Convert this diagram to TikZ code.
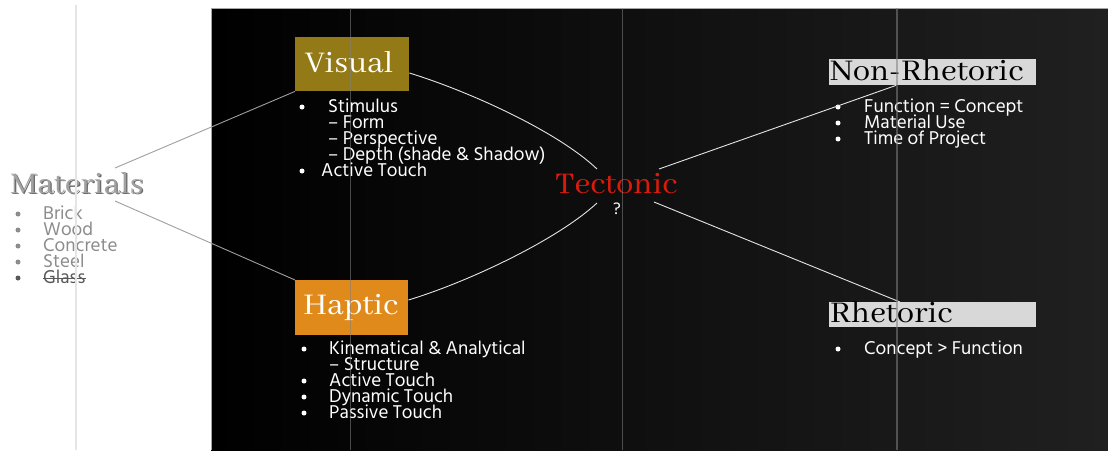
\documentclass[tikz,border=0pt]{standalone}
\usepackage{fontspec}
\newfontfamily\hind{Hind Siliguri}
\newfontfamily\abh[FakeStretch=1.05]{Abhaya Libre}
\usetikzlibrary{calc}
\definecolor{visualc}{HTML}{937A16}
\definecolor{hapticc}{HTML}{E08A1C}
\definecolor{rhetc}{HTML}{D8D8D8}
\definecolor{tecc}{HTML}{DC1A0C}
\definecolor{matc}{HTML}{A2A2A2}
\definecolor{matsh}{HTML}{6A6A6A}
\definecolor{linec}{HTML}{E4E4E4}
\definecolor{panelr}{HTML}{202020}
\tikzset{
  title/.style={font=\abh\fontsize{33}{33}\selectfont, inner sep=0pt, anchor=base west},
  item/.style={font=\hind\fontsize{19}{16}\selectfont, text=white, inner sep=0pt, anchor=base west, text height=11pt, text depth=3pt},
  dot/.style={circle, fill=white, inner sep=0pt, minimum size=5pt},
  conn/.style={draw=linec, line width=0.9pt},
  boxs/.style={inner sep=0pt, anchor=north west, draw=none},
  grid/.style={draw=gray, opacity=0.55, line width=1pt}
}
\begin{document}
\begin{tikzpicture}[x=1pt,y=-1pt]
\useasboundingbox (0,0) rectangle (1108,450);
\fill[white] (0,0) rectangle (1108,450);
\shade[left color=black, right color=panelr] (211,8) rectangle (1108,450);
\draw[gray!70, line width=0.6pt] (211,450) -- (211,8) -- (1108,8);

% boxes
\node[boxs, fill=visualc, minimum width=114pt, minimum height=54pt] (vbox) at (295,37) {};
\node[boxs, fill=hapticc, minimum width=113pt, minimum height=55pt] (hbox) at (295,280) {};
\node[boxs, fill=rhetc, minimum width=207pt, minimum height=26pt] (nbox) at (829,59) {};
\node[boxs, fill=rhetc, minimum width=207pt, minimum height=25pt] (rbox) at (829,302) {};

% titles
\node[title, text=white] (vt) at (305,72) {Visual};
\node[title, text=white] (ht) at (303,314) {Haptic};
\node[title, text=black] (nt) at (830,80) {Non-Rhetoric};
\node[title, text=black] (rt) at (830,322) {Rhetoric};
\node[title, text=tecc] (tec) at (555,193) {Tectonic};
\node[item, font=\hind\fontsize{17}{17}\selectfont] (q) at (613,214) {?};
\node[title, text=matsh] (matshadow) at (11.2,194.2) {Materials};
\node[title, text=matc] (mat) at (10,193) {Materials};

% materials list
\foreach \t [count=\i] in {Brick,Wood,Concrete,Steel}{
  \node[dot, fill=black!45] (mb\i) at (18,{219+16*(\i-1)-5}) {};
  \node[item, text=black!45] (m\i) at (43,{219+16*(\i-1)}) {\t};
}
\node[dot, fill=black!65] (mb5) at (18,278) {};
\node[item, text=black!65] (m5) at (43,283) {Glass};
\draw[black!65, line width=0.8pt] ($(m5.base west)+(0,-5)$) -- ($(m5.base east)+(0,-5)$);

% visual list
\node[dot] (vb1) at (302,107) {};
\node[item] (v1) at (328,112) {Stimulus};
\node[item] (v2) at (328,128) {– Form};
\node[item] (v3) at (328,144) {– Perspective};
\node[item] (v4) at (328,160) {– Depth (shade \& Shadow)};
\node[dot] (vb2) at (302,171) {};
\node[item] (v5) at (321,176) {Active Touch};

% haptic list
\node[dot] (hb1) at (304,349) {};
\node[item] (h1) at (329,354) {Kinematical \& Analytical};
\node[item] (h2) at (329,370) {– Structure};
\node[dot] (hb2) at (304,381) {};
\node[item] (h3) at (329,386) {Active Touch};
\node[dot] (hb3) at (304,397) {};
\node[item] (h4) at (329,402) {Dynamic Touch};
\node[dot] (hb4) at (304,413) {};
\node[item] (h5) at (329,418) {Passive Touch};

% non-rhetoric list
\node[dot] (nb1) at (838,107) {};
\node[item] (n1) at (864,112) {Function = Concept};
\node[dot] (nb2) at (838,123) {};
\node[item] (n2) at (864,128) {Material Use};
\node[dot] (nb3) at (838,139) {};
\node[item] (n3) at (864,144) {Time of Project};

% rhetoric list
\node[dot] (rb1) at (838,349) {};
\node[item] (r1) at (864,354) {Concept > Function};

% connector end coordinates
\coordinate (matA) at (115,168);
\coordinate (matB) at (115,201);
\coordinate (tecA) at (597,169);
\coordinate (tecB) at (597,203);
\coordinate (tecC) at (659,169);
\coordinate (tecD) at (654,202);

% connectors
\draw[conn, draw=gray!75] (matA) -- (vbox.south west);
\draw[conn, draw=gray!75] (matB) -- (hbox.north west);
\draw[conn] ($(vbox.north east)+(0,36)$) .. controls (468,91) and (557,131) .. (tecA);
\draw[conn] ($(hbox.north east)+(0,20)$) .. controls (468,282) and (557,240) .. (tecB);
\draw[conn] (tecC) -- ($(nbox.south west)+(67,0)$);
\draw[conn] (tecD) -- ($(rbox.north west)+(71,0)$);

% faint vertical guide lines
\draw[draw=black!10, line width=1.3pt] (76,5) -- (76,450);
\draw[grid] (350,8) -- (350,450);
\draw[grid] (622,8) -- (622,450);
\draw[grid, line width=1.4pt] (897,8) -- (897,450);
\end{tikzpicture}
\end{document}
